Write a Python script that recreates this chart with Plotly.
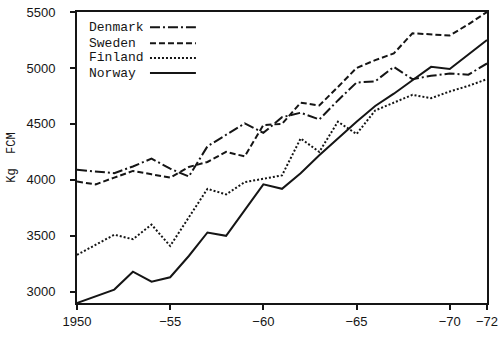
import plotly.graph_objects as go

years = list(range(1950, 1973))

denmark = [4090, 4075, 4060, 4120, 4190, 4100, 4030, 4300, 4400, 4505, 4420, 4560,
           4600, 4540, 4710, 4870, 4880, 5010, 4900, 4930, 4950, 4940, 5040]
sweden = [3985, 3960, 4020, 4080, 4050, 4020, 4115, 4160, 4250, 4210, 4490, 4500,
          4690, 4665, 4830, 5000, 5070, 5130, 5310, 5300, 5290, 5390, 5500]
finland = [3330, 3420, 3510, 3470, 3600, 3410, 3665, 3920, 3870, 3980, 4010, 4040,
           4370, 4250, 4520, 4410, 4620, 4690, 4760, 4730, 4790, 4840, 4900]
norway = [2900, 2960, 3020, 3180, 3090, 3130, 3320, 3530, 3500, 3730, 3960, 3920,
          4060, 4220, 4370, 4520, 4660, 4770, 4890, 5010, 4990, 5120, 5250]

x_tickvals = [1950, 1955, 1960, 1965, 1970, 1972]
x_ticktext = ["1950", "\u221255", "\u221260", "\u221265", "\u221270", "\u221272"]
y_tickvals = [3000, 3500, 4000, 4500, 5000, 5500]

series = [
    ("Denmark", denmark, "10px,3px,2px,3px"),
    ("Sweden", sweden, "6px,3px"),
    ("Finland", finland, "2px,2px"),
    ("Norway", norway, "solid"),
]

INK = "#151515"
MONO = "Liberation Mono, Courier New, monospace"
SANS = "Liberation Sans, Arial, sans-serif"

fig = go.Figure()
for name, vals, dash in series:
    fig.add_trace(go.Scatter(
        x=years, y=vals, mode="lines", name=name,
        line=dict(color=INK, width=2, dash=dash),
        showlegend=False,
    ))

# Legend block: name on the left, line sample on the right
row_y = [0.948, 0.893, 0.842, 0.79]
for (name, _, dash), ry in zip(series, row_y):
    fig.add_annotation(
        x=0.024, y=ry, xref="paper", yref="paper",
        text=name, showarrow=False, xanchor="left", yanchor="middle",
        font=dict(family=MONO, size=13, color=INK),
    )
    fig.add_shape(
        type="line", xref="paper", yref="paper",
        x0=0.178, x1=0.29, y0=ry, y1=ry,
        line=dict(color=INK, width=2, dash=dash),
    )

fig.update_layout(
    width=500, height=338,
    margin=dict(l=77, r=13, t=12, b=35),
    paper_bgcolor="white", plot_bgcolor="white",
    font=dict(family=SANS, size=13, color=INK),
)
fig.update_xaxes(
    range=[1950, 1972], tickvals=x_tickvals, ticktext=x_ticktext,
    automargin=False,
    showgrid=False, zeroline=False,
    showline=True, linecolor=INK, linewidth=2, mirror=True,
    ticks="outside", ticklen=5, tickwidth=2, tickcolor=INK,
    tickfont=dict(family=SANS, size=13, color=INK),
)
fig.update_yaxes(
    range=[2900, 5500], tickvals=y_tickvals,
    automargin=False,
    showgrid=False, zeroline=False,
    showline=True, linecolor=INK, linewidth=2, mirror=True,
    ticks="outside", ticklen=5, tickwidth=2, tickcolor=INK,
    ticklabelstandoff=12,
    tickfont=dict(family=SANS, size=13, color=INK),
    title=dict(text="Kg  FCM", standoff=8,
               font=dict(family=MONO, size=12, color=INK)),
)

fig.write_html("out.html")
